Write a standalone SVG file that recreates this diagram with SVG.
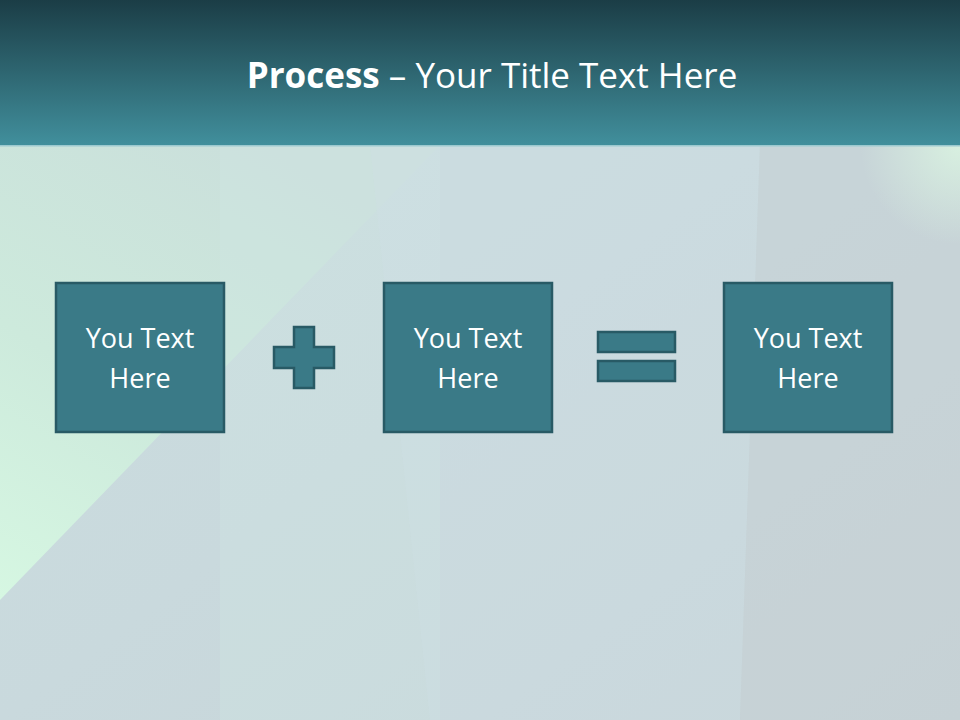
<svg xmlns="http://www.w3.org/2000/svg" width="960" height="720" viewBox="0 0 960 720">
<defs>
<linearGradient id="hdr" x1="0" y1="0" x2="0" y2="1">
<stop offset="0" stop-color="#1b3d46"/>
<stop offset="1" stop-color="#418f9c"/>
</linearGradient>
<linearGradient id="bg" x1="0" y1="0" x2="1" y2="1">
<stop offset="0" stop-color="#cbdfdf"/>
<stop offset="0.5" stop-color="#c9d9dd"/>
<stop offset="1" stop-color="#c7d3d7"/>
</linearGradient>
<linearGradient id="greenTri" x1="0" y1="1" x2="0.6" y2="0">
<stop offset="0" stop-color="#d6f7e2"/>
<stop offset="0.45" stop-color="#cdeadc"/>
<stop offset="1" stop-color="#cadfdb"/>
</linearGradient>
<radialGradient id="glowTR" cx="1" cy="0" r="0.5">
<stop offset="0" stop-color="#d8f0e0"/>
<stop offset="1" stop-color="#d8f0e0" stop-opacity="0"/>
</radialGradient>
<style>
.box{fill:#3a7a87;stroke:#285a65;stroke-width:2.5}
.lbl{font-family:"Open Sans","Liberation Sans",sans-serif;font-size:27px;fill:#ffffff;text-anchor:middle}
.title{font-family:"Open Sans","Liberation Sans",sans-serif;font-size:35px;fill:#ffffff;text-anchor:middle}
</style>
</defs>
<rect x="0" y="0" width="960" height="720" fill="url(#bg)"/>
<polygon points="0,145 440,145 0,600" fill="url(#greenTri)"/>
<polygon points="220,145 440,145 440,720 220,720" fill="#d2e8e4" opacity="0.3"/>
<polygon points="370,145 760,145 740,720 430,720" fill="#cfe0e4" opacity="0.35"/>
<polygon points="760,145 960,145 960,720 740,720" fill="#c6d0d4" opacity="0.5"/>
<rect x="760" y="145" width="200" height="200" fill="url(#glowTR)"/>
<rect x="0" y="0" width="960" height="145" fill="url(#hdr)"/>
<rect x="0" y="145" width="960" height="1.5" fill="#9cc9cf"/>
<text class="title" x="492" y="88"><tspan font-weight="bold">Process</tspan> – Your Title Text Here</text>
<g id="box1"><rect class="box" x="56" y="283" width="168" height="149"/><text class="lbl" x="140" y="348">You Text</text><text class="lbl" x="140" y="388">Here</text></g>
<g id="plus"><path class="box" d="M294,327 H314 V347 H334 V368 H314 V388 H294 V368 H274 V347 H294 Z"/></g>
<g id="box2"><rect class="box" x="384" y="283" width="168" height="149"/><text class="lbl" x="468" y="348">You Text</text><text class="lbl" x="468" y="388">Here</text></g>
<g id="equals"><rect class="box" x="598" y="332" width="77" height="20"/><rect class="box" x="598" y="361" width="77" height="20"/></g>
<g id="box3"><rect class="box" x="724" y="283" width="168" height="149"/><text class="lbl" x="808" y="348">You Text</text><text class="lbl" x="808" y="388">Here</text></g>
<g id="connectors"/>
</svg>
